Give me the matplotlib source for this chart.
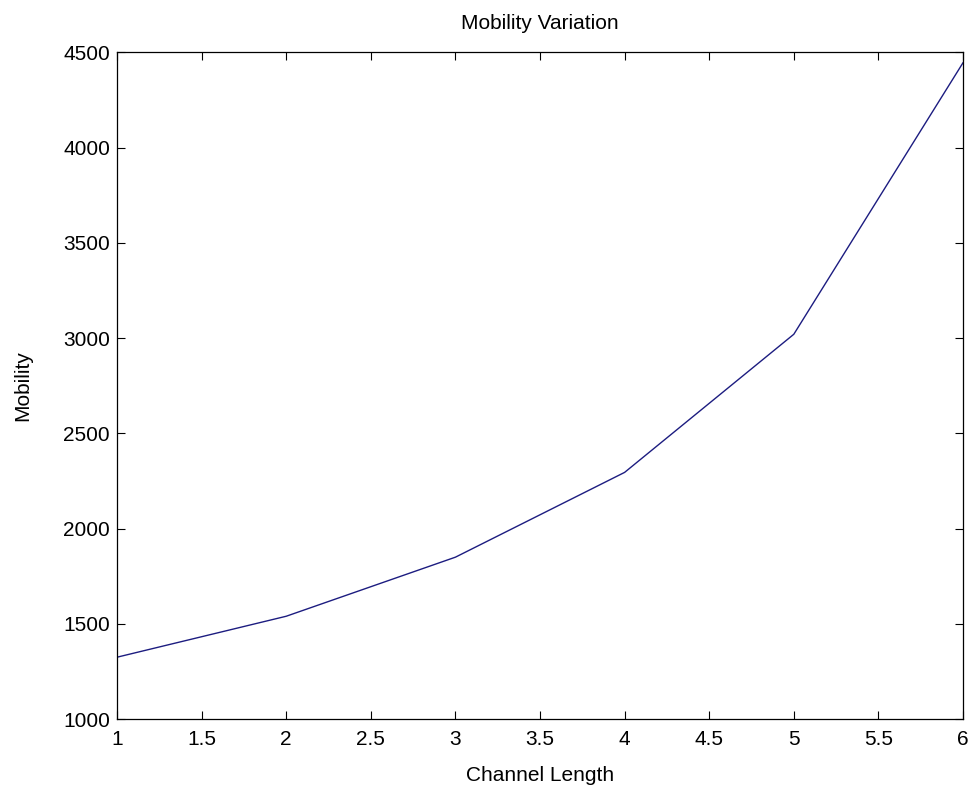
import matplotlib
matplotlib.use("Agg")
import matplotlib.pyplot as plt

# values
channel_length = [1, 2, 3, 4, 5, 6]
mobility = [1325, 1540, 1850, 2295, 3020, 4445]

x_ticks = [1, 1.5, 2, 2.5, 3, 3.5, 4, 4.5, 5, 5.5, 6]
x_tick_labels = ['1', '1.5', '2', '2.5', '3', '3.5', '4', '4.5', '5', '5.5', '6']
y_ticks = [1000, 1500, 2000, 2500, 3000, 3500, 4000, 4500]

plt.rcParams['font.family'] = ['Liberation Sans', 'DejaVu Sans']

fig = plt.figure(figsize=(9.75, 7.92), dpi=100)
ax = fig.add_axes([0.12, 0.092, 0.8677, 0.842])

ax.plot(channel_length, mobility, color='#1c1c80', linewidth=1.0)

ax.set_xlim(1, 6)
ax.set_ylim(1000, 4500)
ax.set_xticks(x_ticks)
ax.set_xticklabels(x_tick_labels)
ax.set_yticks(y_ticks)

ax.tick_params(direction='in', length=6, width=0.8, top=True, right=True,
               labelsize=15, colors='black')
ax.tick_params(axis='x', pad=8)
ax.tick_params(axis='y', pad=5)
for spine in ax.spines.values():
    spine.set_linewidth(0.9)

ax.set_title('Mobility Variation', fontsize=15, pad=17)
ax.set_xlabel('Channel Length', fontsize=15, labelpad=12)
ax.set_ylabel('Mobility', fontsize=15, labelpad=22)

fig.savefig('out.png', dpi=100)
